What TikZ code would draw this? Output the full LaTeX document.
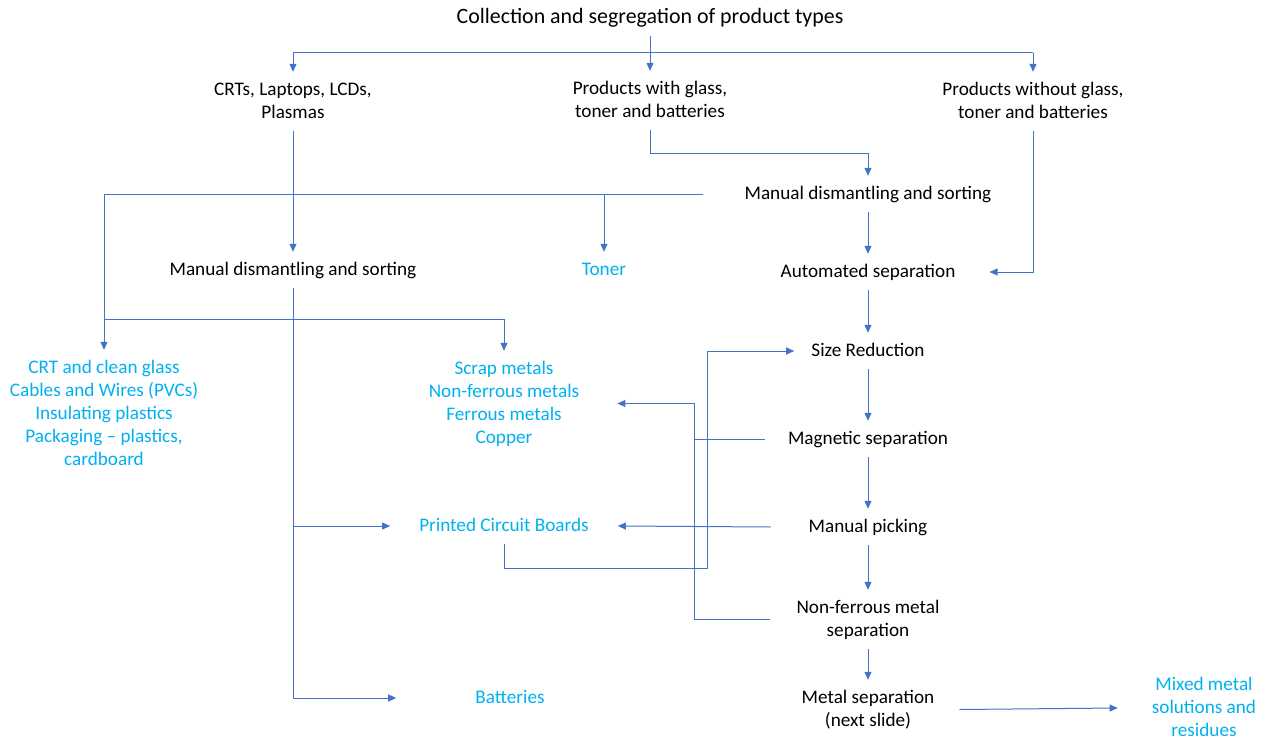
\documentclass[tikz,border=0pt]{standalone}
\usepackage{fontspec}
\setmainfont{Carlito}
\usetikzlibrary{arrows.meta}
\definecolor{flow}{HTML}{4472C4}
\definecolor{outp}{HTML}{00B0F0}
% strut: 14.5bp above the baseline, 3.5bp below
\newcommand\st{\rule[-3.5bp]{0pt}{18bp}}

\begin{document}
\begin{tikzpicture}[x=1bp,y=-1bp,
  ln/.style={draw=flow,line width=1bp},
  arr/.style={ln,-{Triangle[length=8bp,width=7bp]}},
  box/.style={align=center,inner xsep=0pt,inner ysep=9bp,
    font=\fontsize{19.2bp}{23bp}\selectfont},
  stage/.style={box,text=black},
  yield/.style={box,text=outp}]
\useasboundingbox (0,0) rectangle (1270,738);

% process stages
\node[stage,font=\fontsize{21.9bp}{26bp}\selectfont] (title) at (650,17.5) {\st Collection and segregation of product types};
\node[stage] (crt) at (293,101.5) {\st CRTs, Laptops, LCDs,\\\st Plasmas};
\node[stage] (pwg) at (650,100.5) {\st Products with glass,\\\st toner and batteries};
\node[stage] (pwo) at (1033,101.5) {\st Products without glass,\\\st toner and batteries};
\node[stage] (mdR) at (868,194) {\st Manual dismantling and sorting};
\node[stage] (mdL) at (293,270) {\st Manual dismantling and sorting};
\node[stage] (auto) at (868,272) {\st Automated separation};
\node[stage] (size) at (868,351) {\st Size Reduction};
\node[stage] (mag) at (868,439) {\st Magnetic separation};
\node[stage] (pick) at (868,527) {\st Manual picking};
\node[stage] (nonfer) at (868,619.5) {\st Non-ferrous metal\\\st separation};
\node[stage] (metal) at (868,709.5) {\st Metal separation\\\st (next slide)};

% recovered fractions
\node[yield] (toner) at (604,270) {\st Toner};
\node[yield] (glass) at (104,414) {\st CRT and clean glass\\\st Cables and Wires (PVCs)\\\st Insulating plastics\\\st Packaging -- plastics,\\\st cardboard};
\node[yield] (scrap) at (504,403.5) {\st Scrap metals\\\st Non-ferrous metals\\\st Ferrous metals\\\st Copper};
\node[yield] (pcb) at (504,526) {\st Printed Circuit Boards};
\node[yield] (batt) at (510,698) {\st Batteries};
\node[yield] (mixed) at (1204,708) {\st Mixed metal\\\st solutions and\\\st residues};

% top distribution
\coordinate (topbus) at (650,53);
\draw[ln] (title.south) -- (topbus);
\draw[ln] (topbus -| crt) -- (topbus -| pwo);
\foreach \n in {crt,pwg,pwo} \draw[arr] (topbus -| \n) -- (\n.north);

% outputs of the right-hand dismantling
\coordinate (sortbus) at ([xshift=-41bp]mdR.west);
\draw[ln] (sortbus) -- (sortbus -| glass);
\draw[arr] (sortbus -| glass) -- (glass.north);
\draw[arr] (sortbus -| toner) -- (toner.north);

% left branch
\draw[arr] (crt.south) -- (mdL.north);
\coordinate (split) at (293,319);
\draw[ln] (split -| glass) -- (split -| scrap);
\draw[arr] (split -| scrap) -- (scrap.north);
\draw[arr] (mdL.south) |- ([xshift=-79bp]batt.west);
\draw[arr] (mdL.south |- pcb) -- ([xshift=-29bp]pcb.west);

% right column
\draw[arr] (pwg.south) -- ++(0,23) -| (mdR.north);
\draw[arr] (mdR.south) -- (auto.north);
\draw[arr] (pwo.south) |- ([xshift=34bp]auto.east);
\draw[arr] (auto.south) -- (size.north);
\draw[arr] (size.south) -- (mag.north);
\draw[arr] (mag.south) -- (pick.north);
\draw[arr] (pick.south) -- (nonfer.north);
\draw[arr] (nonfer.south) -- (metal.north);

% metal returns
\coordinate (jog) at (694,403.5);
\draw[arr] ([xshift=-23bp]mag.west) -| (jog) -- ([xshift=38bp]scrap.east);
\draw[ln] ([xshift=-26bp]nonfer.west) -| (jog);
\draw[arr] ([xshift=-38bp]pick.west) -- ([xshift=29bp]pcb.east);

% boards loop back to size reduction
\coordinate (loop) at (707,568);
\draw[arr] (pcb.south) |- (loop) |- ([xshift=-17bp]size.west);

% residues
\draw[arr] ([xshift=25bp]metal.east) -- ([xshift=-34bp]mixed.west);
\end{tikzpicture}
\end{document}
